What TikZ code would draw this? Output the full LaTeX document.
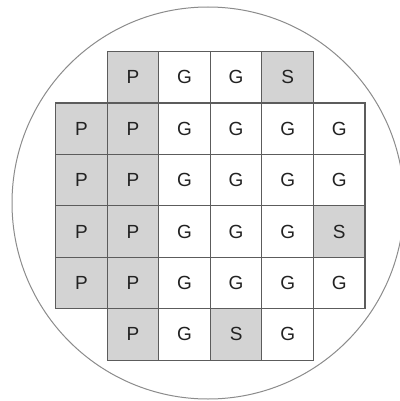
\documentclass[tikz,border=0pt]{standalone}
\usepackage{fontspec}
\setmainfont{Liberation Sans}
\usetikzlibrary{positioning}
\definecolor{Ink}{HTML}{222222}
\definecolor{Edge}{HTML}{5C5C5C}
\definecolor{Shade}{HTML}{D3D3D3}
\definecolor{Rim}{HTML}{8C8C8C}
\tikzset{
  die/.style={draw=Edge,line width=1.1pt,fill=white,minimum size=51.5pt,inner sep=0pt,text=Ink,font=\fontsize{19}{19}\selectfont},
  diegood/.style={die},
  dieshade/.style={die,fill=Shade},
  wafer/.style={draw=Rim,line width=1pt}
}

\begin{document}
\begin{tikzpicture}[x=1pt,y=-1pt]
  \useasboundingbox (0,0) rectangle (399,401);
  \fill[white] (0,0) rectangle (399,401);
  \coordinate (centre) at (208,203);
  \draw[wafer] (centre) circle (196);
  % dies: row/column/label/style
  \foreach \r/\c/\t/\s in {0/1/P/dieshade,0/2/G/diegood,0/3/G/diegood,0/4/S/dieshade,
      1/0/P/dieshade,1/1/P/dieshade,1/2/G/diegood,1/3/G/diegood,1/4/G/diegood,1/5/G/diegood,
      2/0/P/dieshade,2/1/P/dieshade,2/2/G/diegood,2/3/G/diegood,2/4/G/diegood,2/5/G/diegood,
      3/0/P/dieshade,3/1/P/dieshade,3/2/G/diegood,3/3/G/diegood,3/4/G/diegood,3/5/S/dieshade,
      4/0/P/dieshade,4/1/P/dieshade,4/2/G/diegood,4/3/G/diegood,4/4/G/diegood,4/5/G/diegood,
      5/1/P/dieshade,5/2/G/diegood,5/3/S/dieshade,5/4/G/diegood}
    \node[\s] (die-\r-\c) at ({55.7+51.55*(\c+0.5)},{51.7+51.4*(\r+0.5)}) {\t};
\end{tikzpicture}
\end{document}
